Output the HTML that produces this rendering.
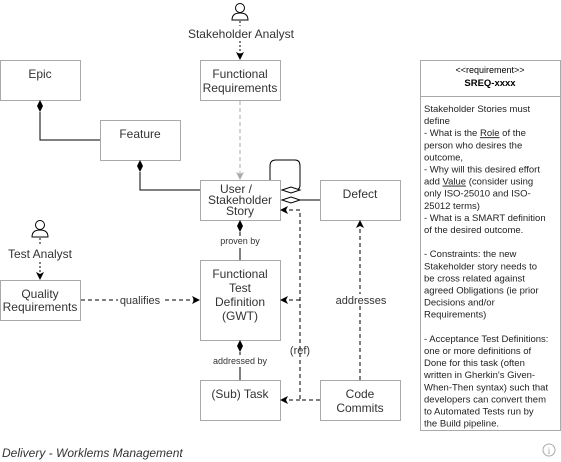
<!DOCTYPE html>
<html><head><style>html,body{margin:0;padding:0;background:#fff;}svg{display:block;}</style></head>
<body>
<svg width="561" height="462" viewBox="0 0 561 462" xmlns="http://www.w3.org/2000/svg" font-family="'Liberation Sans', Arial, sans-serif">
<defs>
<marker id="ar" markerWidth="8" markerHeight="8" refX="7" refY="4" orient="auto" markerUnits="userSpaceOnUse"><path d="M0,0 L8,4 L0,8 L2,4 z" fill="#000"/></marker>
<marker id="arg" markerWidth="8" markerHeight="8" refX="7" refY="4" orient="auto" markerUnits="userSpaceOnUse"><path d="M0,0 L8,4 L0,8 L2,4 z" fill="#aaa"/></marker>
</defs>
<g fill="#fff" stroke="#aaa" stroke-width="1">
<rect x="0.5" y="60.5" width="80" height="40"/>
<rect x="200.5" y="60.5" width="80" height="40"/>
<rect x="100.5" y="120.5" width="80" height="40"/>
<rect x="200.5" y="180.5" width="80" height="40"/>
<rect x="320.5" y="180.5" width="80" height="40"/>
<rect x="200.5" y="260.5" width="80" height="80"/>
<rect x="0.5" y="280.5" width="80" height="40"/>
<rect x="200.5" y="380.5" width="80" height="40"/>
<rect x="320.5" y="380.5" width="80" height="40"/>
<rect x="420.5" y="60.5" width="140" height="370"/>
<line x1="420.5" y1="96.5" x2="560.5" y2="96.5"/>
</g>
<!-- actors -->
<g fill="none" stroke="#000" stroke-width="1">
<circle cx="240" cy="8" r="4.5"/><path d="M232,20 Q232,13 240,13 Q248,13 248,20 Z"/>
<circle cx="40" cy="225" r="4.5"/><path d="M32,237 Q32,230 40,230 Q48,230 48,237 Z"/>
</g>
<!-- connectors -->
<g fill="none" stroke="#000" stroke-width="1">
<line x1="240" y1="21" x2="240" y2="59" stroke-dasharray="2,2" marker-end="url(#ar)"/>
<line x1="40" y1="238" x2="40" y2="279" stroke-dasharray="2,2" marker-end="url(#ar)"/>
<line x1="240" y1="101" x2="240" y2="179" stroke="#aaa" stroke-dasharray="4,3" marker-end="url(#arg)"/>
<path d="M40,112 V140 H100"/>
<path d="M140,172 V190 H200"/>
<path d="M270,180 V166 Q270,160 276,160 H295 Q300,160 300,166 V185 Q300,190 295,190 H300"/>
<path d="M300,200 H320"/>
<path d="M240,232 V260"/>
<path d="M240,352 V380"/>
<path d="M81,300 H199" stroke-dasharray="4,3" marker-end="url(#ar)"/>
<path d="M320,400 H300 V210 H281" stroke-dasharray="4,3" marker-end="url(#ar)"/>
<path d="M300,300 H281" stroke-dasharray="4,3" marker-end="url(#ar)"/>
<path d="M300,400 H281" stroke-dasharray="4,3" marker-end="url(#ar)"/>
<path d="M360,380 V221" stroke-dasharray="4,3" marker-end="url(#ar)"/>
</g>
<rect x="186" y="26" width="110" height="15" fill="#fff"/>
<rect x="6" y="246" width="68" height="15" fill="#fff"/>
<g font-size="12" fill="#333" text-anchor="middle">
<text x="241" y="38">Stakeholder Analyst</text>
<text x="40" y="258">Test Analyst</text>
<text x="40" y="78">Epic</text>
<text x="240" y="78">Functional</text><text x="240" y="92">Requirements</text>
<text x="140" y="138">Feature</text>
<text x="236" y="193">User /</text><text x="240" y="204">Stakeholder</text><text x="240" y="215">Story</text>
<text x="360" y="198">Defect</text>
<text x="240" y="278">Functional</text><text x="240" y="292">Test</text><text x="240" y="306">Definition</text><text x="240" y="320">(GWT)</text>
<text x="40" y="298">Quality</text><text x="40" y="311">Requirements</text>
<text x="240" y="398">(Sub) Task</text>
<text x="360" y="398">Code</text><text x="360" y="412">Commits</text>
</g>
<g fill="#000">
<path d="M40,100 L43,106 L40,112 L37,106 Z"/>
<path d="M140,160 L143,166 L140,172 L137,166 Z"/>
<path d="M240,220 L243,226 L240,232 L237,226 Z"/>
<path d="M240,340 L243,346 L240,352 L237,346 Z"/>
</g>
<g fill="#fff" stroke="#000">
<path d="M282,190 L291,187 L300,190 L291,193 Z"/>
<path d="M282,200 L291,197 L300,200 L291,203 Z"/>
</g>
<g font-size="9" fill="#333" text-anchor="middle">
<rect x="118" y="294" width="44" height="12" fill="#fff"/>
<text x="140" y="304" font-size="11">qualifies</text>
<rect x="215" y="236" width="50" height="12" fill="#fff"/>
<text x="240" y="244">proven by</text>
<rect x="208" y="355" width="64" height="12" fill="#fff"/>
<text x="240" y="364">addressed by</text>
<rect x="335" y="294" width="50" height="12" fill="#fff"/>
<text x="361" y="304" font-size="11">addresses</text>
<text x="300" y="354" font-size="11">(ref)</text>
</g>
<g font-size="9" fill="#000" text-anchor="middle">
<text x="490" y="73">&lt;&lt;requirement&gt;&gt;</text>
<text x="490" y="86" font-weight="bold" font-size="9.5">SREQ-xxxx</text>
</g>
<text font-size="9.5" fill="#222" x="424" y="112">
<tspan x="424" dy="0">Stakeholder Stories must</tspan>
<tspan x="424" dy="12.1">define</tspan>
<tspan x="424" dy="12.1">- What is the <tspan text-decoration="underline">Role</tspan> of the</tspan>
<tspan x="424" dy="12.1">person who desires the</tspan>
<tspan x="424" dy="12.1">outcome,</tspan>
<tspan x="424" dy="12.1">- Why will this desired effort</tspan>
<tspan x="424" dy="12.1">add <tspan text-decoration="underline">Value</tspan> (consider using</tspan>
<tspan x="424" dy="12.1">only ISO-25010 and ISO-</tspan>
<tspan x="424" dy="12.1">25012 terms)</tspan>
<tspan x="424" dy="12.1">- What is a SMART definition</tspan>
<tspan x="424" dy="12.1">of the desired outcome.</tspan>
<tspan x="424" dy="24.2">- Constraints: the new</tspan>
<tspan x="424" dy="12.1">Stakeholder story needs to</tspan>
<tspan x="424" dy="12.1">be cross related against</tspan>
<tspan x="424" dy="12.1">agreed Obligations (ie prior</tspan>
<tspan x="424" dy="12.1">Decisions and/or</tspan>
<tspan x="424" dy="12.1">Requirements)</tspan>
<tspan x="424" dy="24.2">- Acceptance Test Definitions:</tspan>
<tspan x="424" dy="12.1">one or more definitions of</tspan>
<tspan x="424" dy="12.1">Done for this task (often</tspan>
<tspan x="424" dy="12.1">written in Gherkin's Given-</tspan>
<tspan x="424" dy="12.1">When-Then syntax) such that</tspan>
<tspan x="424" dy="12.1">developers can convert them</tspan>
<tspan x="424" dy="12.1">to Automated Tests run by</tspan>
<tspan x="424" dy="12.1">the Build pipeline.</tspan>
</text>
<text x="2" y="457" font-size="12" font-style="italic" fill="#333">Delivery - Worklems Management</text>
<circle cx="549" cy="450" r="6" fill="none" stroke="#aaa"/>
<text x="549" y="454" font-size="9" fill="#999" text-anchor="middle" font-family="'Liberation Serif', serif">i</text>
</svg>
</body></html>
